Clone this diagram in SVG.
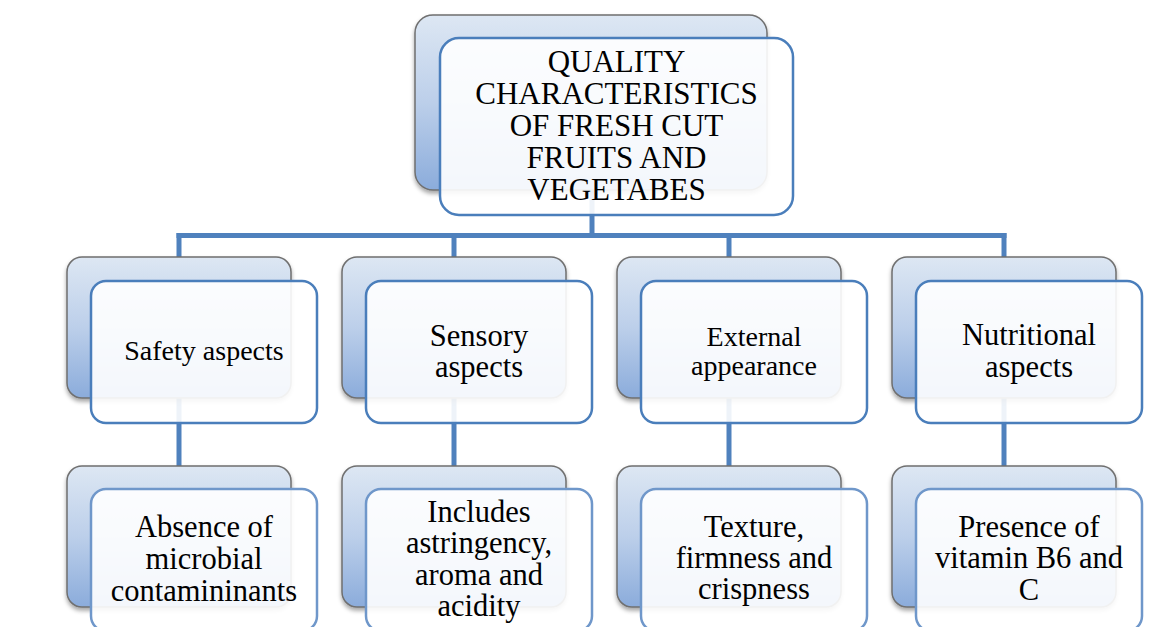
<svg xmlns="http://www.w3.org/2000/svg" width="1156" height="627" viewBox="0 0 1156 627">
<style>
  .back { fill: url(#bgGrad); stroke: #6f6f6f; stroke-width: 1.5; filter: url(#shadow); }
  .front { fill: #ffffff; fill-opacity: 0.9; stroke: #4a7ebb; stroke-width: 2.5; }
  .front3 { fill: #ffffff; fill-opacity: 0.9; stroke: #6f97ca; stroke-width: 2.5; }
  .conn { stroke: #4f81bd; stroke-width: 5; fill: none; }
  text { font-family: 'Liberation Serif', Tinos, 'Times New Roman', Times, 'Noto Serif', 'DejaVu Serif', serif; fill: #000; text-anchor: middle; }
  .t31 { font-size: 31px; }
  .t30 { font-size: 30.5px; }
  .t28 { font-size: 28px; }
</style>
<defs>
  <linearGradient id="bgGrad" x1="0" y1="0" x2="0" y2="1">
    <stop offset="0" stop-color="#dde7f3"/>
    <stop offset="0.5" stop-color="#bccfea"/>
    <stop offset="1" stop-color="#8bacdb"/>
  </linearGradient>
  <filter id="shadow" x="-10%" y="-10%" width="120%" height="125%">
    <feDropShadow dx="0" dy="3" stdDeviation="2" flood-color="#000" flood-opacity="0.35"/>
  </filter>
</defs>
<rect width="1156" height="627" fill="#ffffff"/>

<g id="connectors">
  <line class="conn" x1="592" y1="190" x2="592" y2="235.5"/>
  <line class="conn" x1="176.5" y1="235.5" x2="1006.5" y2="235.5"/>
  <line class="conn" x1="179" y1="233" x2="179" y2="258"/>
  <line class="conn" x1="454" y1="233" x2="454" y2="258"/>
  <line class="conn" x1="729" y1="233" x2="729" y2="258"/>
  <line class="conn" x1="1004" y1="233" x2="1004" y2="258"/>
  <line class="conn" x1="179" y1="398" x2="179" y2="467"/>
  <line class="conn" x1="454" y1="398" x2="454" y2="467"/>
  <line class="conn" x1="729" y1="398" x2="729" y2="467"/>
  <line class="conn" x1="1004" y1="398" x2="1004" y2="467"/>
</g>

<g id="root">
  <rect class="back" x="415" y="15" width="352" height="175" rx="18"/>
  <rect class="front" x="440" y="38" width="353" height="177" rx="19"/>
  <text class="t31" x="616.5" y="72">QUALITY</text>
  <text class="t31" x="616.5" y="104">CHARACTERISTICS</text>
  <text class="t31" x="616.5" y="136">OF FRESH CUT</text>
  <text class="t31" x="616.5" y="168">FRUITS AND</text>
  <text class="t31" x="616.5" y="200">VEGETABES</text>
</g>

<g id="safety">
  <rect class="back" x="67" y="257" width="224" height="141" rx="15"/>
  <rect class="front" x="91" y="281" width="226" height="142" rx="15"/>
  <text class="t28" x="204" y="360">Safety aspects</text>
</g>
<g id="sensory">
  <rect class="back" x="342" y="257" width="224" height="141" rx="15"/>
  <rect class="front" x="366" y="281" width="226" height="142" rx="15"/>
  <text class="t30" x="479" y="346">Sensory</text>
  <text class="t30" x="479" y="377">aspects</text>
</g>
<g id="external">
  <rect class="back" x="617" y="257" width="224" height="141" rx="15"/>
  <rect class="front" x="641" y="281" width="226" height="142" rx="15"/>
  <text class="t28" x="754" y="346">External</text>
  <text class="t28" x="754" y="375">appearance</text>
</g>
<g id="nutritional">
  <rect class="back" x="892" y="257" width="224" height="141" rx="15"/>
  <rect class="front" x="916" y="281" width="226" height="142" rx="15"/>
  <text class="t30" x="1029" y="345">Nutritional</text>
  <text class="t30" x="1029" y="377">aspects</text>
</g>

<g id="absence">
  <rect class="back" x="67" y="466" width="224" height="141" rx="15"/>
  <rect class="front3" x="91" y="489" width="226" height="142" rx="15"/>
  <text class="t30" x="204" y="537">Absence of</text>
  <text class="t30" x="204" y="569">microbial</text>
  <text class="t30" x="204" y="601">contamininants</text>
</g>
<g id="includes">
  <rect class="back" x="342" y="466" width="224" height="141" rx="15"/>
  <rect class="front3" x="366" y="489" width="226" height="142" rx="15"/>
  <text class="t30" x="479" y="522">Includes</text>
  <text class="t30" x="479" y="553">astringency,</text>
  <text class="t30" x="479" y="585">aroma and</text>
  <text class="t30" x="479" y="616">acidity</text>
</g>
<g id="texture">
  <rect class="back" x="617" y="466" width="224" height="141" rx="15"/>
  <rect class="front3" x="641" y="489" width="226" height="142" rx="15"/>
  <text class="t30" x="754" y="537">Texture,</text>
  <text class="t30" x="754" y="568">firmness and</text>
  <text class="t30" x="754" y="599">crispness</text>
</g>
<g id="presence">
  <rect class="back" x="892" y="466" width="224" height="141" rx="15"/>
  <rect class="front3" x="916" y="489" width="226" height="142" rx="15"/>
  <text class="t30" x="1029" y="537">Presence of</text>
  <text class="t30" x="1029" y="568">vitamin B6 and</text>
  <text class="t30" x="1029" y="600">C</text>
</g>
</svg>
